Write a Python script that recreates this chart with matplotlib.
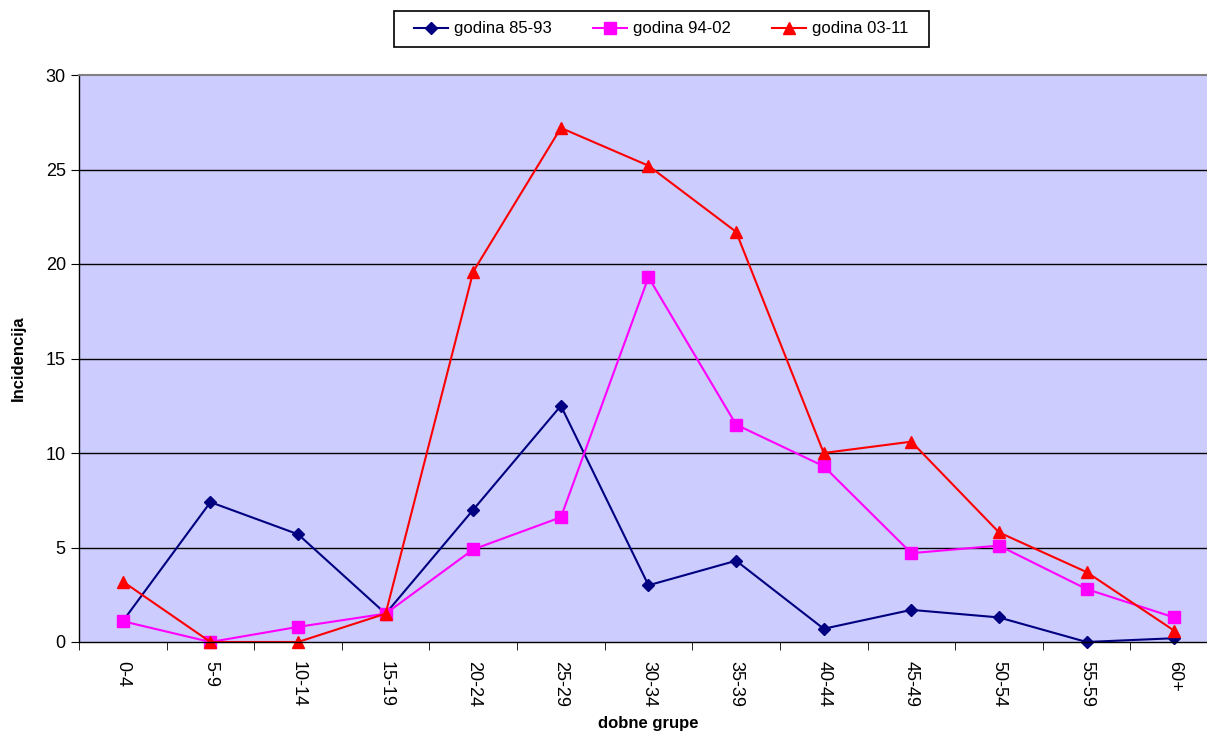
import matplotlib
matplotlib.use("Agg")
import matplotlib.pyplot as plt
from matplotlib.patches import Rectangle
import numpy as np

plt.rcParams['font.family'] = ['Liberation Sans', 'DejaVu Sans']

categories = ["0-4", "5-9", "10-14", "15-19", "20-24", "25-29", "30-34",
              "35-39", "40-44", "45-49", "50-54", "55-59", "60+"]
g85_93 = [1.1, 7.4, 5.7, 1.5, 7.0, 12.5, 3.0, 4.3, 0.7, 1.7, 1.3, 0.0, 0.2]
g94_02 = [1.1, 0.0, 0.8, 1.5, 4.9, 6.6, 19.3, 11.5, 9.3, 4.7, 5.1, 2.8, 1.3]
g03_11 = [3.2, 0.0, 0.0, 1.5, 19.6, 27.2, 25.2, 21.7, 10.0, 10.6, 5.8, 3.7, 0.6]
y_ticks = [0, 5, 10, 15, 20, 25, 30]

W, H = 1207, 732
fig = plt.figure(figsize=(W / 100, H / 100), dpi=100)
ax = fig.add_axes([79/W, 1-642/H, 1139/W, 567/H])
ax.set_facecolor('#CCCCFF')

x = np.arange(len(categories))
l1, = ax.plot(x, g85_93, color='#000080', marker='D', markersize=6, lw=1.5, label='godina 85-93', clip_on=False)
l2, = ax.plot(x, g94_02, color='#FF00FF', marker='s', markersize=8, lw=1.5, label='godina 94-02', clip_on=False)
l3, = ax.plot(x, g03_11, color='#FF0000', marker='^', markersize=9, lw=1.5, label='godina 03-11', clip_on=False)

ax.set_xlim(-0.5, len(categories) - 0.5)
ax.set_ylim(0, 30)
ax.set_yticks(y_ticks)
ax.set_yticklabels([str(v) for v in y_ticks], fontsize=13)
for v in y_ticks[1:-1]:
    ax.axhline(v, color='black', lw=1, zorder=1)

ax.set_xticks(x)
ax.set_xticklabels(categories, rotation=-90, fontsize=13)
ax.tick_params(axis='x', which='major', length=0, pad=14)
ax.set_xticks(np.arange(len(categories) + 1) - 0.5, minor=True)
ax.tick_params(axis='x', which='minor', length=6, color='black', direction='out')
ax.tick_params(axis='y', length=6, color='black', direction='out')

for s in ['left', 'bottom']:
    ax.spines[s].set_color('black')
    ax.spines[s].set_linewidth(1)
ax.spines['top'].set_color('#808080')
ax.spines['top'].set_linewidth(1.5)
ax.spines['right'].set_visible(False)

ax.set_xlabel('dobne grupe', fontsize=12, fontweight='bold', labelpad=6)
ax.set_ylabel('Incidencija', fontsize=12, fontweight='bold', labelpad=14)

leg = fig.legend(handles=[l1, l2, l3], loc='center', bbox_to_anchor=(661/W, 1-29/H),
                 ncol=3, frameon=False, fontsize=12,
                 handlelength=2.05, columnspacing=2.45, borderpad=0.5, handletextpad=0.36)
fig.add_artist(Rectangle((394/W, 1-47/H), 535/W, 36/H, transform=fig.transFigure,
                         fill=False, edgecolor='black', lw=1.2))

fig.savefig('out.png', dpi=100)
